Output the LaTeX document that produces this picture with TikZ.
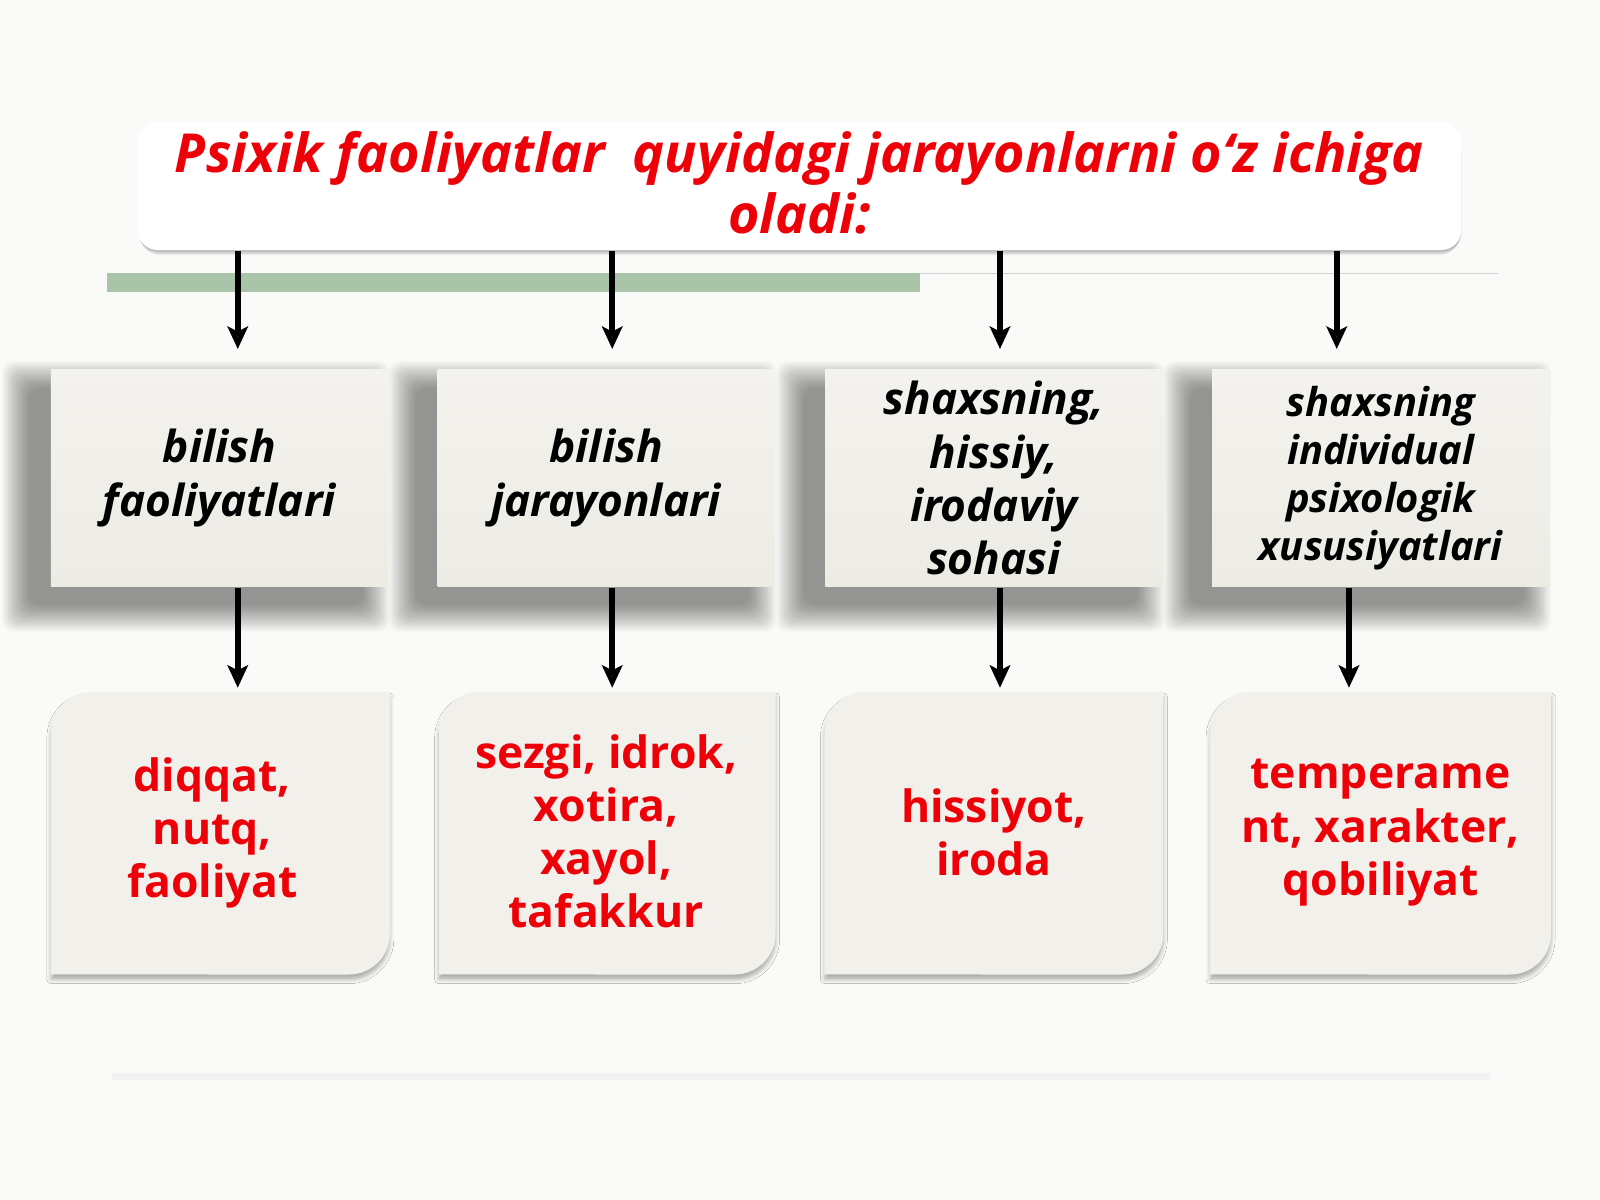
\documentclass[tikz,border=0pt]{standalone}
\usepackage{fontspec}
\setmainfont{Open Sans}
\usetikzlibrary{shadows.blur,arrows.meta}
\definecolor{tred}{HTML}{EE0008}
\definecolor{bgcol}{HTML}{FAFAF8}
\definecolor{midtop}{HTML}{F3F2EE}
\definecolor{midbot}{HTML}{ECEBE4}
\definecolor{lowfill}{HTML}{F1F0EB}
\definecolor{greenbar}{HTML}{A9C4A9}
\newcommand\softshadow[4]{% x1 ytop x2 ybot (display px, y positive down)
  \foreach \k in {0,...,19}{
    \fill[black, opacity=0.024, rounded corners=3pt]
      ({#1-20-28+\k*1.4},{-(#2+20-28+\k*1.4)}) rectangle ({#3-26+28-\k*1.4},{-(#4+16+28-\k*1.4)});
  }}
\tikzset{
  titlebox/.style={draw=none, fill=white, rounded corners=0.2cm, minimum width=12.97cm, minimum height=1.25cm},
  midbox/.style={shade, top color=midtop, bottom color=midbot, minimum width=3.3cm, minimum height=2.13cm,
    inner sep=0pt, align=center, text width=3.25cm},
  midtext/.style={font=\fontsize{12.3}{14.8}\selectfont\bfseries\itshape, text=black},
  smalltext/.style={font=\fontsize{11.1}{13.4}\selectfont\bfseries\itshape, text=black},
  lowshape/.style={fill=lowfill, blur shadow={shadow xshift=0cm, shadow yshift=-0.05cm, shadow blur radius=0.04cm, shadow opacity=30}},
  lowtext/.style={font=\fontsize{12.4}{14.8}\selectfont\bfseries, text=tred, align=center},
  arr/.style={line width=1.7pt, -{Stealth[length=0.22cm, width=0.2cm, inset=0.05cm]}}
}
\begin{document}
\begin{tikzpicture}[x=0.01cm, y=0.01cm]
\useasboundingbox (0,0) rectangle (1568,-1176);
\fill[bgcol] (0,0) rectangle (1568,-1176);

% faint lines
\fill[greenbar] (105,-268) rectangle (902,-286);
\draw[black!18, line width=0.5pt] (902,-268) -- (1468,-268);
\draw[black!5, line width=2pt] (110,-1055) -- (1460,-1055);

% title
\foreach \k in {0,...,4}{
  \fill[black, opacity=0.06, rounded corners=0.2cm] ({137-\k*0.5},{-130}) rectangle ({1431+\k*0.5},{-(245+5-\k)});
}
\node[titlebox] (title) at (783.5,-182.5) {};
\node[font=\fontsize{15}{17}\selectfont\bfseries\itshape, text=tred, align=center] (ttext) at (783.5,-179)
  {Psixik faoliyatlar\ \ quyidagi jarayonlarni o‘z ichiga\\oladi:};

% middle boxes
\softshadow{50}{362}{380}{575}
\softshadow{429}{362}{759}{575}
\softshadow{809}{362}{1139}{575}
\softshadow{1188}{362}{1518}{575}
\node[midbox, midtext] (m1) at (215,-468.5) {bilish\\faoliyatlari};
\node[midbox, midtext] (m2) at (594,-468.5) {bilish\\jarayonlari};
\node[midbox, midtext] (m3) at (974,-468.5) {shaxsning,\\hissiy,\\irodaviy\\sohasi};
\node[midbox, smalltext] (m4) at (1353,-468.5) {shaxsning\\individual\\psixologik\\xususiyatlari};

% lower boxes (round diagonal corners)
\foreach \xa/\xb/\nm in {50/382/l1, 430/760/l2, 808/1140/l3, 1186/1520/l4}{
  \path[lowshape] (\xa,-955) -- (\xa,-718) arc[start angle=180, end angle=90, radius=0.4cm]
     -- (\xb,-678) -- (\xb,-915) arc[start angle=0, end angle=-90, radius=0.4cm] -- cycle;
  \coordinate (\nm) at ({(\xa+\xb)/2},-678);
}
\node[lowtext] (t1) at (208,-816) {diqqat,\\nutq,\\faoliyat};
\node[lowtext] (t2) at (594,-815) {sezgi, idrok,\\xotira,\\xayol,\\tafakkur};
\node[lowtext] (t3) at (974,-816) {hissiyot,\\iroda};
\node[lowtext] (t4) at (1353,-816) {temperame\\nt, xarakter,\\qobiliyat};

% arrows
\coordinate (e1) at (233,-342); \coordinate (e2) at (600,-342);
\coordinate (e3) at (980,-342); \coordinate (e4) at (1310,-342);
\coordinate (f1) at (233,-674); \coordinate (f2) at (600,-674);
\coordinate (f3) at (980,-674); \coordinate (f4) at (1322,-674);
\draw[arr] (title.south -| e1) -- (e1);
\draw[arr] (title.south -| e2) -- (e2);
\draw[arr] (title.south -| e3) -- (e3);
\draw[arr] (title.south -| e4) -- (e4);
\draw[arr] (m1.south -| f1) -- (f1);
\draw[arr] (m2.south -| f2) -- (f2);
\draw[arr] (m3.south -| f3) -- (f3);
\draw[arr] (m4.south -| f4) -- (f4);
\end{tikzpicture}
\end{document}
